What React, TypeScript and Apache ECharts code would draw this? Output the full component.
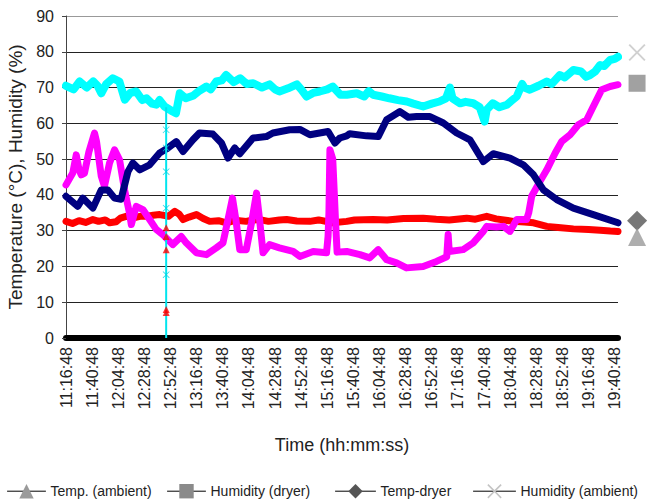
import React, { useEffect, useRef } from 'react';
import * as echarts from 'echarts';

const FONT = "'Liberation Sans', Arial, sans-serif";

// x-axis tick labels (every 24 minutes starting 11:16:48)
const TICK_LABELS = [
  '11:16:48', '11:40:48', '12:04:48', '12:28:48', '12:52:48', '13:16:48', '13:40:48', '14:04:48',
  '14:28:48', '14:52:48', '15:16:48', '15:40:48', '16:04:48', '16:28:48', '16:52:48', '17:16:48',
  '17:40:48', '18:04:48', '18:28:48', '18:52:48', '19:16:48', '19:40:48',
];
const TICK_STEP = 24; // minutes
const X_MAX = 507; // minutes after 11:16:48
const Y_TICKS = [0, 10, 20, 30, 40, 50, 60, 70, 80, 90];

// [minutes after 11:16:48, value]
const tempAmbient: number[][] = [
  [0, 32.6], [6, 32.0], [12, 32.8], [18, 32.3], [24.7, 33.1], [30, 32.6], [36, 33.0], [40, 32.2],
  [46, 32.5], [50, 33.5], [55.2, 34.0], [62, 33.6], [68, 34.0], [73.7, 34.0], [80, 34.3], [86, 34.5],
  [91, 34.2], [94, 34.0], [100, 35.4], [104, 34.6], [107.5, 33.1], [113, 33.8], [119.8, 34.5],
  [126, 33.4], [132, 32.6], [140, 32.8], [147.4, 32.2], [155, 32.9], [165.6, 32.6], [172, 33.0],
  [177.8, 33.1], [186, 32.6], [196, 33.0], [202.6, 33.1], [212, 32.7], [224, 32.6], [232, 33.0],
  [245, 32.2], [257.8, 32.6], [265, 33.0], [282, 33.1], [295, 33.0], [310, 33.4], [328, 33.5],
  [340, 33.2], [352, 33.0], [368, 33.5], [376, 33.2], [386.4, 34.0], [395, 33.3], [410.9, 32.6],
  [421, 32.4], [429.4, 32.2], [441.6, 31.2], [452, 30.9], [466, 30.5], [480, 30.3], [490.6, 30.1],
  [500, 29.9], [507, 29.8],
];
const tempAmbientDrop: number[][] = [[92, 30.8], [92, 28.4], [92, 24.7], [92, 8.0], [92, 7.1]];

const humidityDryer: number[][] = [
  [0, 42.8], [6.2, 46.1], [9.4, 51.2], [12, 47.0], [14, 45.6], [17, 46.1], [21, 52], [26.2, 57.3],
  [28, 55], [32.4, 45.2], [35.3, 42.4], [40, 48.9], [44.6, 52.6], [49.2, 49.8], [53.8, 41.4],
  [58.3, 34.9], [60, 31.7], [64.5, 36.8], [70.6, 35.9], [76.8, 33.1], [83, 30.3], [89, 28.9],
  [98, 26.1], [105.8, 28.4], [110.4, 26.6], [119.8, 23.8], [129, 23.3], [138, 25.2], [144.2, 26.6],
  [148.8, 33.1], [152.9, 39.1], [156, 33.1], [159.6, 24.7], [165.6, 24.7], [170.4, 32.2],
  [175, 40.5], [177.8, 33.1], [181, 23.8], [187, 26.1], [196, 25.2], [208.6, 24.2], [214.8, 22.8],
  [227, 24.2], [239.3, 23.8], [240.7, 28.4], [241.5, 35], [242.4, 52.6], [245, 50], [246.5, 40],
  [247.5, 33], [249, 24], [257.8, 24.2], [270, 23.3], [279, 22.4], [286.8, 24.7], [294.5, 21.9],
  [303.6, 21.0], [312.7, 19.6], [328, 20.0], [340.3, 21.4], [349.7, 22.7], [351, 28.9], [352, 24.2],
  [364.8, 24.7], [374, 26.6], [383.3, 29.8], [386.4, 31.2], [395.5, 31.0], [401.8, 31.2],
  [407.8, 29.8], [414, 33.1], [423, 33.1], [425, 35], [427.7, 39.6], [435.4, 43.8], [441.6, 47.0],
  [449.3, 51.7], [455.3, 54.9], [463, 56.8], [470.6, 59.6], [478.3, 61.0], [484.3, 64.7],
  [492, 69.4], [499.7, 70.3], [507, 70.8],
];

const tempDryer: number[][] = [
  [0, 39.6], [10.8, 36.8], [15.4, 39.1], [24.7, 36.3], [32.4, 41.4], [38.4, 41.4], [44.6, 39.1],
  [50.6, 38.8], [56.9, 46.5], [61.4, 48.9], [67.7, 47.0], [76.8, 48.4], [86, 51.7], [92.1, 52.8],
  [101.3, 54.9], [107.5, 52.1], [116.6, 55.4], [122.6, 57.3], [134.9, 57.0], [142.8, 54.5],
  [148.8, 50.3], [155, 53.1], [159.6, 51.5], [171.8, 55.9], [184, 56.3], [190, 57.3], [205.4, 58.2],
  [214.8, 58.3], [224, 56.8], [233, 57.3], [240.7, 57.7], [247, 54.5], [251.5, 55.9], [257.8, 56.5],
  [260.6, 57.1], [276, 56.5], [286.8, 56.3], [294.5, 61.0], [306.7, 63.3], [314.4, 61.7],
  [322, 61.9], [334.3, 61.9], [346.6, 60.1], [358.8, 57.3], [371, 55.4], [383.3, 49.3],
  [392.4, 51.5], [407.8, 50.3], [420, 48.4], [429.4, 45.6], [438.5, 41.4], [450.7, 38.7],
  [466, 36.3], [484.3, 34.5], [507, 32.2],
];

const humidityAmbient: number[][] = [
  [0, 70.5], [7, 69.5], [12.5, 71.7], [19, 70.0], [25, 71.7], [29, 70.5], [32.4, 68.4], [37, 71.0],
  [43, 72.6], [49, 71.7], [54, 66.6], [59, 68.5], [64.5, 68.9], [70, 66.5], [74, 67.0], [79, 65.5],
  [83, 65.2], [86, 66.5], [90.5, 64.7], [98, 63.3], [101, 62.8], [104.5, 68.4], [110, 67.0],
  [116.6, 67.7], [122, 69.0], [129, 70.3], [133, 69.5], [138, 71.7], [143, 72.0], [147, 73.5],
  [154, 71.5], [160, 72.6], [166, 71.0], [172, 71.2], [180, 70.0], [187, 70.9], [192, 69.5],
  [196, 68.9], [204, 69.8], [212, 70.9], [216, 69.5], [221, 67.5], [227, 68.5], [233, 68.9],
  [240, 69.5], [245, 70.3], [252, 68.0], [258, 68.0], [267, 68.4], [274, 67.5], [278, 69.0],
  [282, 68.0], [290, 67.5], [297, 67.0], [305, 66.5], [313, 66.1], [319, 65.5], [328, 64.7],
  [336, 65.5], [343, 66.1], [349, 67.0], [352.6, 70.0], [355, 67.0], [362, 65.6], [367, 66.0],
  [374, 65.6], [380, 64.5], [384.5, 60.5], [386.4, 63.8], [392, 65.6], [398, 64.5], [405, 65.2],
  [410, 66.5], [414, 67.5], [419, 71.0], [421, 70.0], [426, 69.4], [434, 70.5], [441.6, 71.7],
  [446, 71.0], [453.6, 73.5], [458, 72.8], [466, 74.9], [473, 74.5], [477.6, 73.0], [481.4, 73.5],
  [486, 74.5], [490.6, 76.3], [494.4, 76.0], [499.7, 77.7], [504, 78.0], [507, 78.6],
];
const humidityAmbientDrop: number[][] = [[92, 64.5], [92, 0]];
const humidityAmbientDropMarks: number[][] = [[92, 58.2], [92, 53.1], [92, 46.5], [92, 36.3], [92, 17.7]];

// end-of-series legend symbols to the right of the plot
const END_X = 524.5;
const endValues = { humAmb: 79.8, humDryer: 71.2, tempDryer: 32.8, tempAmb: 28.2 };

const X_SYMBOL = 'path://M0,0.8L0.8,0L5,4.2L9.2,0L10,0.8L5.8,5L10,9.2L9.2,10L5,5.8L0.8,10L0,9.2L4.2,5Z';

const LEGEND_ITEMS = [
  { name: 'Temp. (ambient)', color: '#9a9a9a', left: 2, width: 38 },
  { name: 'Humidity (dryer)', color: '#8a8a8a', left: 162, width: 38 },
  { name: 'Temp-dryer', color: '#555555', left: 330, width: 40 },
  { name: 'Humidity (ambient)', color: '#c4c4c4', left: 468, width: 42 },
];

const fmtTick = (v: number) => {
  const i = Math.round(v / TICK_STEP);
  return TICK_LABELS[i] ?? '';
};

export default function App() {
  const ref = useRef<HTMLDivElement>(null);

  useEffect(() => {
    if (!ref.current) return;
    const chart = echarts.init(ref.current, undefined, { renderer: 'svg' });

    const line = (name: string, data: number[][], color: string, width: number, symbol: string, z: number) => ({
      name,
      type: 'line',
      data,
      symbol,
      symbolSize: 10,
      showSymbol: false,
      lineStyle: { color, width, join: 'round', cap: 'round' },
      itemStyle: { color },
      emphasis: { disabled: true },
      z,
    });

    const endMarker = (name: string, value: number, symbol: string, size: number, color: string) => ({
      name,
      type: 'scatter',
      data: [[END_X, value]],
      symbol,
      symbolSize: size,
      clip: false,
      itemStyle: { color },
      emphasis: { disabled: true },
      silent: true,
      z: 10,
    });

    chart.setOption({
      animation: false,
      backgroundColor: '#ffffff',
      textStyle: { fontFamily: FONT },
      grid: { left: 66, right: 29, top: 16, bottom: 162, outerBoundsMode: 'none' },
      legend: LEGEND_ITEMS.map((it) => ({
        left: it.left,
        top: 479,
        itemWidth: it.width,
        itemHeight: 18,
        itemGap: 0,
        selectedMode: false,
        textStyle: { fontSize: 14, color: '#222', fontFamily: FONT },
        data: [{ name: it.name, itemStyle: { color: it.color }, lineStyle: { color: '#000', width: 1 } }],
      })),
      xAxis: {
        type: 'value',
        min: 0,
        max: X_MAX,
        name: 'Time (hh:mm:ss)',
        nameLocation: 'middle',
        nameGap: 98,
        nameTextStyle: { fontSize: 18, color: '#222', fontFamily: FONT },
        axisLine: { show: true, onZero: false, lineStyle: { color: '#000', width: 6 } },
        axisTick: { show: false },
        splitLine: { show: false },
        axisLabel: {
          customValues: TICK_LABELS.map((_, i) => i * TICK_STEP),
          rotate: 90,
          margin: 9,
          fontSize: 16,
          color: '#222',
          fontFamily: FONT,
          formatter: (v: number) => fmtTick(v),
        },
      },
      yAxis: {
        type: 'value',
        min: Y_TICKS[0],
        max: Y_TICKS[Y_TICKS.length - 1],
        interval: 10,
        name: 'Temperature (°C), Humidity (%)',
        nameLocation: 'middle',
        nameGap: 36,
        nameTextStyle: { fontSize: 19, color: '#222', fontFamily: FONT },
        axisLine: { show: true, lineStyle: { color: '#444', width: 1 } },
        axisTick: { show: true, inside: false, length: 4, lineStyle: { color: '#444' } },
        axisLabel: { margin: 12, fontSize: 16, color: '#222', fontFamily: FONT },
        splitLine: {
          show: true,
          lineStyle: {
            width: 1,
            color: ['#000', '#222', '#222', '#222', '#222', '#222', '#222', '#222', '#222', '#999'],
          },
        },
      },
      series: [
        line('Temp. (ambient)', tempAmbient, '#ff0000', 7, 'triangle', 2),
        line('Humidity (dryer)', humidityDryer, '#ff00ff', 7, 'rect', 3),
        line('Temp-dryer', tempDryer, '#000080', 7, 'diamond', 4),
        line('Humidity (ambient)', humidityAmbient, '#00ffff', 8, X_SYMBOL, 5),
        {
          name: 'tempAmbientDrop',
          type: 'scatter',
          data: tempAmbientDrop,
          symbol: 'triangle',
          symbolSize: 7,
          itemStyle: { color: '#ff0000' },
          silent: true,
          z: 6,
        },
        {
          name: 'humidityAmbientDrop',
          type: 'line',
          data: humidityAmbientDrop,
          showSymbol: false,
          lineStyle: { color: '#00e5ee', width: 2 },
          silent: true,
          z: 5,
        },
        {
          name: 'humidityAmbientDropMarks',
          type: 'scatter',
          data: humidityAmbientDropMarks,
          symbol: X_SYMBOL,
          symbolSize: 7,
          itemStyle: { color: '#00d0e0' },
          silent: true,
          z: 6,
        },
        endMarker('endHumAmb', endValues.humAmb, X_SYMBOL, 17, '#c4c4c4'),
        endMarker('endHumDryer', endValues.humDryer, 'rect', 17, '#8a8a8a'),
        endMarker('endTempDryer', endValues.tempDryer, 'diamond', 20, '#555555'),
        endMarker('endTempAmb', endValues.tempAmb, 'triangle', 18, '#9a9a9a'),
      ],
    });

    return () => chart.dispose();
  }, []);

  return <div ref={ref} style={{ width: 647, height: 500, position: 'absolute', left: 0, top: 0 }} />;
}
